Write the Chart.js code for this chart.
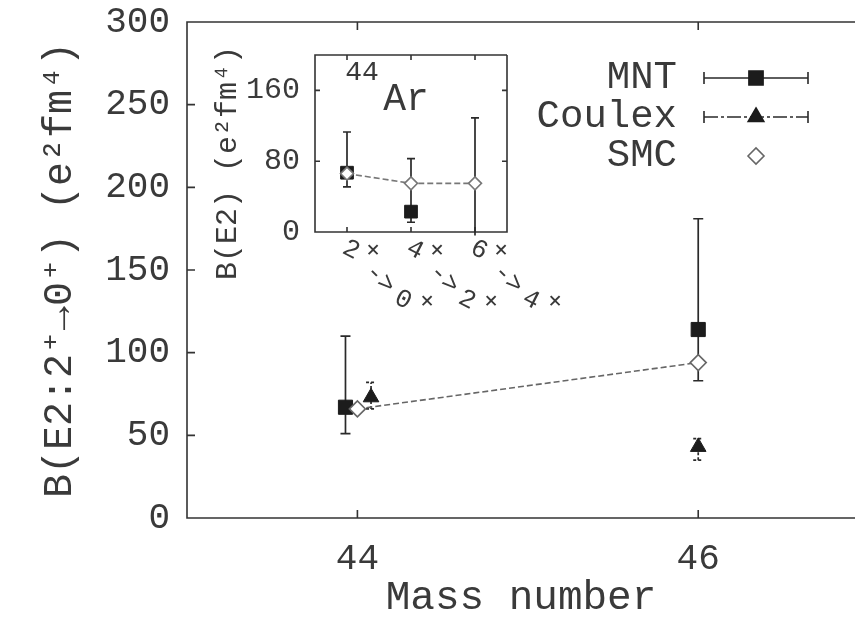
<!DOCTYPE html>
<html>
<head>
<meta charset="utf-8">
<script src="https://cdn.jsdelivr.net/npm/chart.js@4.4.0/dist/chart.umd.min.js"></script>
<style>
  body { margin: 0; background: #fff; }
  #wrap { position: relative; width: 855px; height: 630px; overflow: hidden; }
  #mainBox { position: absolute; left: 0; top: 0; width: 855px; height: 630px; }
  #insetBox { position: absolute; left: 200px; top: 30px; width: 380px; height: 290px; }
</style>
</head>
<body>
<div id="wrap">
  <div id="mainBox"><canvas id="mainChart"></canvas></div>
  <div id="insetBox"><canvas id="insetChart"></canvas></div>
</div>
<script>
"use strict";

const FONT = "'Liberation Mono', 'DejaVu Sans Mono', monospace";
const INK = "#3a3a3a";

// main plot: B(E2) vs mass number
const massTicks = [44, 46];
const mntMass = [43.93, 46];
const mntB = [67, 114];
const mntLow = [51, 83];
const mntHigh = [110, 181];
const coulexMass = [44.08, 46];
const coulexB = [73, 43];
const coulexLow = [66, 35];
const coulexHigh = [82, 48];
const smcMass = [44.0, 46];
const smcB = [66, 94];

// inset: 44Ar transitions
const nucleusMass = "44";
const nucleusName = "Ar";
const insetFrom = ["2", "4", "6"];
const insetTo = ["0", "2", "4"];
const insetIndex = [0, 1, 2];
const insetMnt = [67, 23, null];
const insetMntLow = [51, 11, -4];
const insetMntHigh = [113, 83, 129];
const insetSmc = [66, 55, 55];
const insetYLabels = [0, 80, 160];
const insetYTitle = "B(E2) (e\u00b2fm\u2074)";

const toPoints = (xs, ys) => xs.map((x, i) => ({ x: x, y: ys[i] }));

// vertical error bars drawn from errLow / errHigh of each dataset
const errorBarPlugin = {
  id: "errorBars",
  beforeDatasetsDraw(chart, args, opts) {
    const { ctx, scales: { x, y } } = chart;
    chart.data.datasets.forEach((ds) => {
      if (!ds.errLow) return;
      ctx.save();
      ctx.strokeStyle = "#2a2a2a";
      ctx.lineWidth = 1.7;
      ctx.setLineDash(ds.errDash || []);
      ds.data.forEach((p, i) => {
        const px = x.getPixelForValue(p.x);
        const lo = ds.errLow[i];
        const hi = ds.errHigh[i];
        const pLo = y.getPixelForValue(lo);
        const pHi = y.getPixelForValue(hi);
        ctx.beginPath();
        ctx.moveTo(px, pLo);
        ctx.lineTo(px, pHi);
        if (hi <= y.max) {
          ctx.moveTo(px - opts.cap, pHi);
          ctx.lineTo(px + opts.cap, pHi);
        }
        if (lo >= y.min) {
          ctx.moveTo(px - opts.cap, pLo);
          ctx.lineTo(px + opts.cap, pLo);
        }
        ctx.stroke();
      });
      ctx.restore();
    });
  },
};

// gnuplot-like frame with inward ticks
const framePlugin = {
  id: "frame",
  beforeDatasetsDraw(chart, args, opts) {
    const { ctx, chartArea: a, scales: { x, y } } = chart;
    const t = opts.tick;
    ctx.save();
    ctx.strokeStyle = "#333";
    ctx.lineWidth = 1.6;
    ctx.beginPath();
    ctx.moveTo(a.right, a.top);
    ctx.lineTo(a.left, a.top);
    ctx.lineTo(a.left, a.bottom);
    ctx.lineTo(a.right, a.bottom);
    if (opts.right) ctx.lineTo(a.right, a.top);
    x.ticks.forEach((tk) => {
      const px = x.getPixelForValue(tk.value);
      ctx.moveTo(px, a.bottom);
      ctx.lineTo(px, a.bottom - t);
      ctx.moveTo(px, a.top);
      ctx.lineTo(px, a.top + t);
    });
    y.ticks.forEach((tk) => {
      const py = y.getPixelForValue(tk.value);
      ctx.moveTo(a.left, py);
      ctx.lineTo(a.left + t, py);
      if (opts.right) {
        ctx.moveTo(a.right, py);
        ctx.lineTo(a.right - t, py);
      }
    });
    ctx.stroke();
    ctx.restore();
  },
};

const drawMarker = (ctx, ds, px, py) => {
  ctx.save();
  ctx.fillStyle = ds.backgroundColor;
  ctx.strokeStyle = ds.borderColor;
  ctx.setLineDash([]);
  Chart.helpers.drawPoint(ctx, {
    pointStyle: ds.pointStyle,
    radius: ds.pointRadius,
    rotation: 0,
    borderWidth: ds.borderWidth,
  }, px, py);
  ctx.restore();
};

// legend: right-aligned labels, error-bar samples to the right
const legendPlugin = {
  id: "sampleLegend",
  afterDraw(chart, args, opts) {
    const { ctx } = chart;
    const dsets = chart.data.datasets;
    ctx.save();
    ctx.font = "39px " + FONT;
    ctx.fillStyle = INK;
    ctx.textAlign = "right";
    ctx.textBaseline = "middle";
    opts.order.forEach((idx, row) => {
      const ds = dsets[idx];
      const yy = opts.rows[row];
      ctx.fillText(ds.label, opts.textRight, yy);
      const x0 = opts.lineFrom;
      const x1 = opts.lineTo;
      const mid = (x0 + x1) / 2;
      if (ds.errLow) {
        ctx.strokeStyle = "#2a2a2a";
        ctx.lineWidth = 1.6;
        ctx.setLineDash(ds.legendDash || []);
        ctx.beginPath();
        ctx.moveTo(x0, yy);
        ctx.lineTo(x1, yy);
        ctx.moveTo(x0, yy - 6);
        ctx.lineTo(x0, yy + 6);
        ctx.moveTo(x1, yy - 6);
        ctx.lineTo(x1, yy + 6);
        ctx.stroke();
      }
      drawMarker(ctx, ds, mid, yy);
    });
    ctx.restore();
  },
};

const mainChart = new Chart(document.getElementById("mainChart"), {
  type: "scatter",
  data: {
    datasets: [
      {
        label: "MNT",
        data: toPoints(mntMass, mntB),
        errLow: mntLow,
        errHigh: mntHigh,
        pointStyle: "rect",
        pointRadius: 10,
        borderWidth: 1,
        backgroundColor: "#1c1c1c",
        borderColor: "#1c1c1c",
        order: 3,
      },
      {
        label: "Coulex",
        data: toPoints(coulexMass, coulexB),
        errLow: coulexLow,
        errHigh: coulexHigh,
        errDash: [3, 2],
        legendDash: [14, 3, 3, 3],
        pointStyle: "triangle",
        pointRadius: 9,
        borderWidth: 1,
        backgroundColor: "#1c1c1c",
        borderColor: "#1c1c1c",
        order: 2,
      },
      {
        label: "SMC",
        data: toPoints(smcMass, smcB),
        showLine: true,
        borderDash: [6, 3],
        pointStyle: "rectRot",
        pointRadius: 8,
        borderWidth: 1.6,
        backgroundColor: "#ffffff",
        borderColor: "#666",
        order: 1,
      },
    ],
  },
  options: {
    responsive: true,
    maintainAspectRatio: false,
    animation: false,
    layout: { autoPadding: false, padding: { top: 22, right: 0, left: 0, bottom: 0 } },
    scales: {
      x: {
        type: "linear",
        min: 43,
        max: 46.92,
        grid: { display: false },
        border: { display: false },
        afterBuildTicks: (s) => {
          s.ticks = massTicks.map((v) => ({ value: v }));
        },
        afterFit: (s) => {
          s.height = 112;
          s.paddingLeft = 0;
          s.paddingRight = 0;
        },
        ticks: {
          color: INK,
          padding: 12,
          font: { family: FONT, size: 36 },
        },
        title: {
          display: true,
          text: "Mass number",
          color: INK,
          padding: { top: 0, bottom: 7 },
          font: { family: FONT, size: 41 },
        },
      },
      y: {
        min: 0,
        max: 300,
        grid: { display: false },
        border: { display: false },
        afterFit: (s) => {
          s.width = 187;
          s.paddingTop = 0;
          s.paddingBottom = 0;
        },
        ticks: {
          stepSize: 50,
          color: INK,
          padding: 9,
          font: { family: FONT, size: 36 },
        },
        title: {
          display: true,
          text: "B(E2:2\u207a\u21920\u207a) (e\u00b2fm\u2074)",
          color: INK,
          padding: { top: 36, bottom: 0 },
          font: { family: FONT, size: 40 },
        },
      },
    },
    plugins: {
      legend: { display: false },
      tooltip: { enabled: false },
      errorBars: { cap: 5 },
      frame: { tick: 8, right: false },
      sampleLegend: {
        order: [0, 1, 2],
        rows: [78, 117, 156],
        textRight: 677,
        lineFrom: 704,
        lineTo: 808,
      },
    },
  },
  plugins: [framePlugin, errorBarPlugin, legendPlugin],
});

// text inside and around the inset
const insetTextPlugin = {
  id: "insetText",
  afterDraw(chart) {
    const { ctx, chartArea: a, scales: { x } } = chart;
    ctx.save();
    ctx.fillStyle = INK;
    ctx.textAlign = "center";
    ctx.textBaseline = "middle";
    ctx.font = "28px " + FONT;
    ctx.fillText(nucleusMass, a.left + 47, a.top + 18);
    ctx.font = "38px " + FONT;
    ctx.fillText(nucleusName, a.left + 91, a.top + 45);

    ctx.save();
    ctx.translate(28, 133);
    ctx.rotate(-Math.PI / 2);
    ctx.font = "30px " + FONT;
    ctx.fillText(insetYTitle, 0, 0);
    ctx.restore();

    const glyph = (s, gx, gy, rot) => {
      ctx.save();
      ctx.translate(gx, gy);
      ctx.rotate(rot);
      ctx.fillText(s, 0, 0);
      ctx.restore();
    };
    const q = Math.PI / 4;
    ctx.font = "26px " + FONT;
    insetFrom.forEach((from, i) => {
      const px = x.getPixelForValue(insetIndex[i]);
      const py = a.bottom;
      glyph(from, px + 4, py + 18, q * 0.6);
      glyph("+", px + 25, py + 19, q);
      glyph("->", px + 33, py + 47, q);
      glyph(insetTo[i], px + 56, py + 68, q * 0.6);
      glyph("+", px + 79, py + 70, q);
    });
    ctx.restore();
  },
};

const insetChart = new Chart(document.getElementById("insetChart"), {
  type: "scatter",
  data: {
    datasets: [
      {
        label: "MNT",
        data: toPoints(insetIndex, insetMnt),
        errLow: insetMntLow,
        errHigh: insetMntHigh,
        pointStyle: "rect",
        pointRadius: 9,
        borderWidth: 1,
        backgroundColor: "#1c1c1c",
        borderColor: "#1c1c1c",
        order: 2,
      },
      {
        label: "SMC",
        data: toPoints(insetIndex, insetSmc),
        showLine: true,
        borderDash: [6, 3],
        pointStyle: "rectRot",
        pointRadius: 6.5,
        borderWidth: 1.6,
        backgroundColor: "#ffffff",
        borderColor: "#777",
        order: 1,
      },
    ],
  },
  options: {
    responsive: true,
    maintainAspectRatio: false,
    animation: false,
    layout: { autoPadding: false, padding: { top: 25, right: 73, left: 0, bottom: 0 } },
    scales: {
      x: {
        type: "linear",
        min: -0.5,
        max: 2.5,
        grid: { display: false },
        border: { display: false },
        afterBuildTicks: (s) => {
          s.ticks = insetIndex.map((v) => ({ value: v }));
        },
        afterFit: (s) => {
          s.height = 88;
          s.paddingLeft = 0;
          s.paddingRight = 0;
        },
        ticks: { display: false },
      },
      y: {
        min: 0,
        max: 200,
        grid: { display: false },
        border: { display: false },
        afterFit: (s) => {
          s.width = 115;
          s.paddingTop = 0;
          s.paddingBottom = 0;
        },
        ticks: {
          stepSize: 40,
          color: INK,
          padding: 7,
          font: { family: FONT, size: 30 },
          callback: (v) => (insetYLabels.includes(v) ? v : ""),
        },
      },
    },
    plugins: {
      legend: { display: false },
      tooltip: { enabled: false },
      errorBars: { cap: 4 },
      frame: { tick: 5, right: true },
    },
  },
  plugins: [framePlugin, errorBarPlugin, insetTextPlugin],
});
</script>
</body>
</html>
